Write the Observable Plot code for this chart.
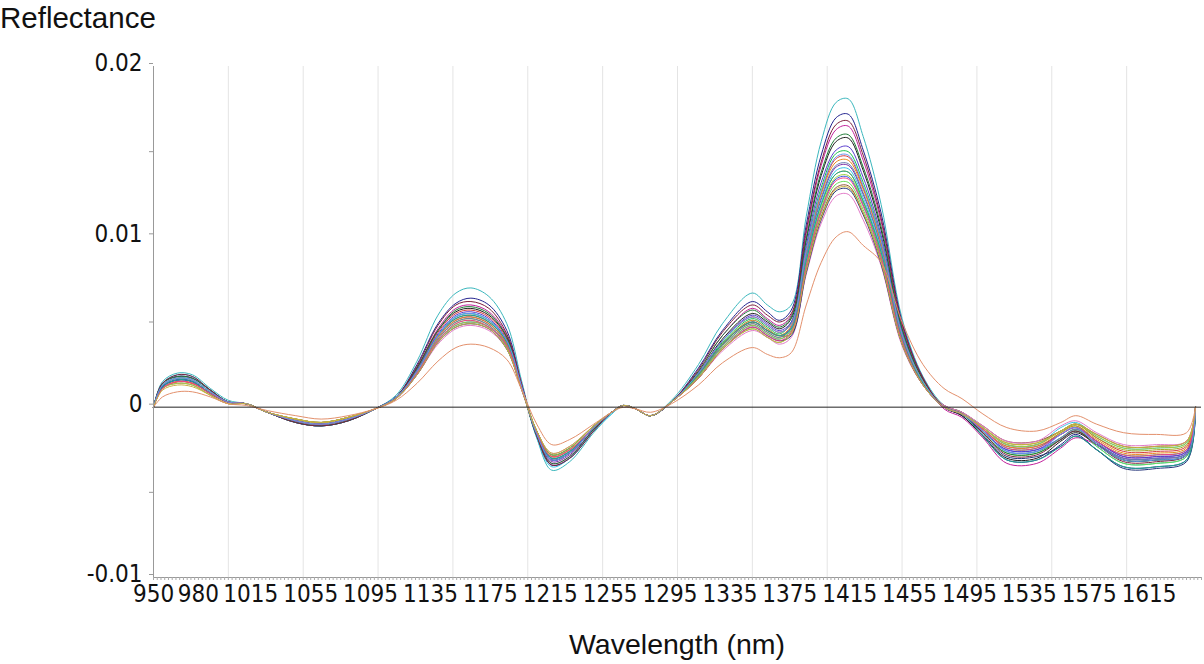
<!DOCTYPE html>
<html>
<head>
<meta charset="utf-8">
<script src="https://cdn.jsdelivr.net/npm/d3@7"></script>
<script src="https://cdn.jsdelivr.net/npm/@observablehq/plot@0.6"></script>
<style>
  html, body { margin: 0; padding: 0; background: #fff; }
  body { width: 1204px; height: 664px; position: relative; overflow: hidden; font-family: "Liberation Sans", Arial, sans-serif; }
  #title { position: absolute; left: 0px; top: 3px; font-size: 29.5px; color: #111; line-height: 1; }
  #chart { position: absolute; left: 0; top: 40px; }
  #xlabel { position: absolute; left: 153px; width: 1048px; top: 630px; text-align: center; font-size: 28.5px; color: #111; line-height: 1; }
</style>
</head>
<body>
<div id="title">Reflectance</div>
<div id="chart"></div>
<div id="xlabel">Wavelength (nm)</div>
<script>
// Wavelength sampling points (nm)
const wavelengths = [950,956,966,976,988,1000,1012,1026,1045,1062,1080,1098,1112,1126,1140,1152,1162,1174,1186,1196,1206,1216,1228,1244,1256,1264,1272,1282,1296,1314,1330,1350,1360,1368,1376,1386,1396,1406,1414,1424,1436,1450,1464,1478,1490,1504,1520,1540,1556,1566,1580,1598,1620,1640,1646];

// Representative spectra (reflectance)
const s01 = [0,.0015,.0020,.0019,.0011,.0004,.0002,-.0003,-.0009,-.0011,-.0008,-.0001,.0007,.0027,.0054,.0067,.0070,.0065,.0049,.0015,-.0018,-.0037,-.0032,-.0015,-.0004,.0001,-.0001,-.0005,.0004,.0025,.0049,.0067,.0060,.0056,.0060,.0112,.0156,.0179,.0181,.0159,.0119,.0052,.0018,.0001,-.0004,-.0014,-.0026,-.0026,-.0019,-.0014,-.0023,-.0033,-.0033,-.0029,0];
const s02 = [0,.0014,.0018,.0017,.0010,.0003,.0002,-.0003,-.0009,-.0011,-.0008,-.0001,.0006,.0025,.0049,.0061,.0064,.0060,.0045,.0013,-.0017,-.0034,-.0030,-.0014,-.0003,.0001,-.0001,-.0005,.0003,.0023,.0045,.0062,.0056,.0051,.0057,.0107,.0148,.0170,.0172,.0151,.0114,.0050,.0017,0,-.0005,-.0017,-.0031,-.0031,-.0022,-.0016,-.0025,-.0035,-.0035,-.0031,0];
const s03 = [0,.0013,.0017,.0016,.0009,.0003,.0002,-.0003,-.0008,-.0010,-.0007,-.0001,.0006,.0023,.0046,.0058,.0060,.0056,.0042,.0013,-.0017,-.0033,-.0029,-.0013,-.0003,.0001,-.0001,-.0005,.0003,.0021,.0042,.0058,.0052,.0048,.0054,.0102,.0142,.0163,.0165,.0145,.0109,.0048,.0017,-.0001,-.0006,-.0018,-.0033,-.0033,-.0024,-.0018,-.0022,-.0030,-.0030,-.0027,0];
const s04 = [0,.0012,.0016,.0015,.0008,.0003,.0002,-.0003,-.0008,-.0010,-.0007,-.0001,.0006,.0023,.0045,.0056,.0058,.0054,.0041,.0012,-.0016,-.0031,-.0027,-.0012,-.0003,.0001,-.0001,-.0005,.0003,.0020,.0040,.0055,.0050,.0046,.0052,.0098,.0136,.0156,.0158,.0139,.0104,.0046,.0016,0,-.0005,-.0017,-.0030,-.0030,-.0020,-.0015,-.0022,-.0031,-.0031,-.0028,0];
const s05 = [0,.0013,.0017,.0016,.0009,.0003,.0002,-.0003,-.0007,-.0009,-.0006,-.0001,.0006,.0021,.0042,.0053,.0055,.0051,.0039,.0012,-.0015,-.0030,-.0026,-.0012,-.0003,.0001,-.0001,-.0005,.0003,.0019,.0038,.0052,.0047,.0043,.0050,.0093,.0129,.0149,.0150,.0132,.0099,.0044,.0015,0,-.0004,-.0013,-.0024,-.0024,-.0015,-.0011,-.0020,-.0028,-.0028,-.0025,0];
const s06 = [0,.0011,.0015,.0014,.0008,.0003,.0002,-.0003,-.0008,-.0010,-.0007,-.0001,.0006,.0022,.0044,.0055,.0057,.0053,.0040,.0012,-.0015,-.0029,-.0025,-.0012,-.0003,.0001,-.0001,-.0005,.0003,.0020,.0039,.0053,.0048,.0044,.0049,.0091,.0126,.0146,.0147,.0129,.0097,.0043,.0015,.0001,-.0003,-.0012,-.0022,-.0022,-.0014,-.0010,-.0018,-.0026,-.0026,-.0023,0];
const s07 = [0,.0014,.0018,.0017,.0010,.0003,.0002,-.0003,-.0009,-.0011,-.0008,-.0001,.0005,.0021,.0041,.0051,.0053,.0049,.0037,.0011,-.0016,-.0032,-.0028,-.0013,-.0003,.0001,-.0001,-.0005,.0003,.0019,.0037,.0050,.0045,.0042,.0047,.0088,.0122,.0141,.0142,.0125,.0094,.0041,.0014,0,-.0004,-.0013,-.0023,-.0023,-.0016,-.0012,-.0020,-.0029,-.0029,-.0026,0];
const s08 = [0,.0011,.0014,.0013,.0007,.0002,.0002,-.0003,-.0007,-.0009,-.0006,-.0001,.0005,.0020,.0040,.0050,.0052,.0048,.0036,.0011,-.0014,-.0028,-.0024,-.0011,-.0003,.0001,-.0001,-.0005,.0003,.0018,.0036,.0049,.0044,.0041,.0046,.0086,.0119,.0137,.0138,.0121,.0091,.0040,.0014,.0001,-.0003,-.0012,-.0021,-.0021,-.0014,-.0010,-.0018,-.0025,-.0025,-.0022,0];
const s09 = [0,.0012,.0016,.0015,.0008,.0003,.0002,-.0003,-.0008,-.0010,-.0007,-.0001,.0005,.0020,.0039,.0048,.0050,.0047,.0035,.0011,-.0015,-.0030,-.0026,-.0012,-.0003,.0001,-.0001,-.0005,.0003,.0018,.0035,.0048,.0043,.0040,.0045,.0084,.0116,.0134,.0135,.0119,.0089,.0039,.0014,0,-.0004,-.0014,-.0025,-.0025,-.0018,-.0013,-.0021,-.0030,-.0030,-.0027,0];
const s10 = [0,.0014,.0019,.0018,.0010,.0003,.0002,-.0003,-.0009,-.0011,-.0008,-.0001,.0006,.0021,.0042,.0053,.0055,.0051,.0039,.0012,-.0018,-.0035,-.0030,-.0014,-.0004,.0001,-.0001,-.0005,.0003,.0019,.0037,.0051,.0046,.0042,.0046,.0087,.0120,.0139,.0140,.0123,.0092,.0041,.0014,.0001,-.0003,-.0012,-.0022,-.0022,-.0012,-.0009,-.0017,-.0024,-.0024,-.0021,0];
const s11 = [0,.0011,.0015,.0014,.0008,.0003,.0002,-.0003,-.0007,-.0009,-.0006,-.0001,.0005,.0021,.0042,.0052,.0054,.0050,.0038,.0011,-.0016,-.0031,-.0027,-.0012,-.0003,.0001,-.0001,-.0005,.0003,.0019,.0037,.0050,.0045,.0042,.0043,.0081,.0112,.0129,.0130,.0114,.0086,.0038,.0013,.0001,-.0003,-.0011,-.0020,-.0020,-.0014,-.0010,-.0016,-.0023,-.0023,-.0020,0];
const s12 = [0,.0013,.0017,.0016,.0009,.0003,.0002,-.0003,-.0008,-.0010,-.0007,-.0001,.0005,.0020,.0039,.0049,.0051,.0047,.0036,.0011,-.0015,-.0029,-.0025,-.0012,-.0003,.0001,-.0001,-.0005,.0003,.0017,.0034,.0046,.0041,.0038,.0044,.0082,.0114,.0131,.0132,.0116,.0087,.0038,.0013,0,-.0004,-.0015,-.0027,-.0027,-.0018,-.0013,-.0023,-.0033,-.0033,-.0029,0];
const s13 = [0,.0011,.0014,.0013,.0007,.0002,.0002,-.0003,-.0007,-.0009,-.0006,-.0001,.0005,.0019,.0037,.0046,.0048,.0045,.0034,.0010,-.0014,-.0027,-.0023,-.0011,-.0003,.0001,-.0001,-.0005,.0003,.0017,.0033,.0045,.0041,.0037,.0041,.0078,.0108,.0124,.0125,.0110,.0083,.0036,.0013,.0001,-.0003,-.0011,-.0020,-.0020,-.0011,-.0008,-.0015,-.0022,-.0022,-.0020,0];
const s14 = [0,.0012,.0016,.0015,.0008,.0003,.0002,-.0003,-.0008,-.0010,-.0007,-.0001,.0005,.0019,.0038,.0047,.0049,.0046,.0034,.0010,-.0014,-.0028,-.0024,-.0011,-.0003,.0001,-.0001,-.0005,.0003,.0017,.0034,.0047,.0042,.0039,.0042,.0079,.0110,.0127,.0128,.0113,.0084,.0037,.0013,0,-.0004,-.0016,-.0029,-.0029,-.0023,-.0017,-.0025,-.0036,-.0036,-.0032,0];
const s15 = [0,.0006,.0009,.0009,.0006,.0002,.0001,-.0002,-.0005,-.0007,-.0005,-.0001,.0004,.0014,.0027,.0035,.0037,.0035,.0028,.0010,-.0010,-.0022,-.0019,-.0010,-.0003,0,-.0001,-.0003,.0002,.0013,.0026,.0035,.0031,.0029,.0032,.0060,.0085,.0100,.0103,.0095,.0085,.0050,.0025,.0011,.0005,-.0004,-.0012,-.0014,-.0009,-.0005,-.0010,-.0015,-.0016,-.0015,0];
const s16 = [0,.0012,.0016,.0015,.0008,.0003,.0002,-.0003,-.0008,-.0010,-.0007,-.0001,.0006,.0022,.0043,.0054,.0056,.0052,.0039,.0012,-.0016,-.0031,-.0027,-.0012,-.0003,.0001,-.0001,-.0005,.0003,.0020,.0039,.0054,.0049,.0045,.0050,.0095,.0132,.0151,.0153,.0135,.0101,.0044,.0015,0,-.0004,-.0014,-.0025,-.0025,-.0016,-.0012,-.0020,-.0029,-.0029,-.0026,0];
const s17 = [0,.0014,.0018,.0017,.0010,.0003,.0002,-.0003,-.0009,-.0011,-.0008,-.0001,.0006,.0023,.0045,.0057,.0059,.0055,.0041,.0012,-.0017,-.0033,-.0029,-.0013,-.0003,.0001,-.0001,-.0005,.0003,.0021,.0042,.0057,.0051,.0047,.0053,.0099,.0138,.0158,.0160,.0141,.0106,.0046,.0016,0,-.0004,-.0015,-.0027,-.0027,-.0019,-.0014,-.0022,-.0031,-.0031,-.0028,0];
const s18 = [0,.0011,.0015,.0014,.0008,.0003,.0002,-.0003,-.0007,-.0009,-.0006,-.0001,.0005,.0021,.0041,.0051,.0053,.0049,.0037,.0011,-.0015,-.0029,-.0025,-.0012,-.0003,.0001,-.0001,-.0005,.0003,.0019,.0037,.0051,.0046,.0042,.0048,.0090,.0125,.0144,.0145,.0128,.0096,.0042,.0015,0,-.0004,-.0013,-.0023,-.0023,-.0015,-.0011,-.0019,-.0027,-.0027,-.0024,0];
const s19 = [0,.0013,.0017,.0016,.0009,.0003,.0002,-.0003,-.0008,-.0010,-.0007,-.0001,.0005,.0020,.0040,.0050,.0052,.0048,.0036,.0011,-.0015,-.0030,-.0026,-.0012,-.0003,.0001,-.0001,-.0005,.0003,.0018,.0036,.0049,.0044,.0041,.0047,.0089,.0123,.0142,.0143,.0126,.0094,.0041,.0014,0,-.0004,-.0014,-.0026,-.0026,-.0018,-.0013,-.0021,-.0030,-.0030,-.0027,0];
const s20 = [0,.0011,.0014,.0013,.0007,.0002,.0002,-.0003,-.0007,-.0009,-.0006,-.0001,.0005,.0020,.0039,.0048,.0050,.0047,.0035,.0011,-.0014,-.0028,-.0024,-.0011,-.0003,.0001,-.0001,-.0005,.0003,.0018,.0035,.0048,.0043,.0040,.0045,.0084,.0117,.0135,.0136,.0120,.0090,.0039,.0014,0,-.0004,-.0012,-.0022,-.0022,-.0014,-.0010,-.0017,-.0024,-.0024,-.0021,0];
const s21 = [0,.0014,.0019,.0018,.0010,.0003,.0002,-.0003,-.0009,-.0011,-.0008,-.0001,.0006,.0024,.0048,.0060,.0062,.0058,.0043,.0013,-.0017,-.0034,-.0030,-.0014,-.0003,.0001,-.0001,-.0005,.0003,.0022,.0044,.0060,.0054,.0050,.0055,.0104,.0144,.0166,.0168,.0148,.0111,.0049,.0017,0,-.0004,-.0015,-.0028,-.0028,-.0019,-.0014,-.0022,-.0032,-.0032,-.0028,0];
const s22 = [0,.0012,.0016,.0015,.0008,.0003,.0002,-.0003,-.0008,-.0010,-.0007,-.0001,.0005,.0021,.0042,.0052,.0054,.0050,.0038,.0011,-.0015,-.0030,-.0026,-.0012,-.0003,.0001,-.0001,-.0005,.0003,.0019,.0037,.0050,.0045,.0042,.0046,.0086,.0119,.0137,.0138,.0121,.0091,.0040,.0014,0,-.0004,-.0017,-.0031,-.0031,-.0023,-.0017,-.0025,-.0035,-.0035,-.0031,0];
const s23 = [0,.0011,.0015,.0014,.0008,.0003,.0002,-.0003,-.0008,-.0010,-.0007,-.0001,.0005,.0020,.0039,.0049,.0051,.0047,.0036,.0011,-.0015,-.0029,-.0025,-.0012,-.0003,.0001,-.0001,-.0005,.0003,.0017,.0034,.0047,.0042,.0039,.0044,.0083,.0115,.0133,.0134,.0118,.0088,.0039,.0013,0,-.0004,-.0013,-.0024,-.0024,-.0016,-.0012,-.0020,-.0028,-.0028,-.0025,0];
const s24 = [0,.0013,.0017,.0016,.0009,.0003,.0002,-.0003,-.0008,-.0010,-.0007,-.0001,.0006,.0021,.0042,.0053,.0055,.0051,.0039,.0012,-.0016,-.0031,-.0027,-.0012,-.0003,.0001,-.0001,-.0005,.0003,.0020,.0039,.0053,.0048,.0044,.0049,.0092,.0127,.0147,.0148,.0130,.0098,.0043,.0015,0,-.0004,-.0014,-.0026,-.0026,-.0016,-.0012,-.0022,-.0031,-.0031,-.0028,0];
const s25 = [0,.0010,.0013,.0012,.0007,.0002,.0002,-.0003,-.0007,-.0009,-.0006,-.0001,.0005,.0019,.0038,.0047,.0049,.0046,.0034,.0010,-.0014,-.0027,-.0023,-.0011,-.0003,.0001,-.0001,-.0005,.0003,.0017,.0034,.0046,.0041,.0038,.0043,.0080,.0111,.0128,.0129,.0114,.0085,.0037,.0013,0,-.0004,-.0012,-.0021,-.0021,-.0014,-.0010,-.0016,-.0023,-.0023,-.0020,0];

const seriesNames = ["s01","s02","s03","s04","s05","s06","s07","s08","s09","s10","s11","s12","s13","s14","s15","s16","s17","s18","s19","s20","s21","s22","s23","s24","s25"];
const seriesValues = [s01,s02,s03,s04,s05,s06,s07,s08,s09,s10,s11,s12,s13,s14,s15,s16,s17,s18,s19,s20,s21,s22,s23,s24,s25];
const seriesColors = ["#3ab7bd","#23238f","#c2209c","#1e1e1e","#19c24a","#d63a3a","#7a2fa8","#a4a628","#3556e0","#35c3e6","#8c5530","#66dd55","#e27ac8","#24347a","#e3906c","#5a3ccf","#1d7a35","#e88a1c","#6a7fb0","#9bd13a","#7d1f3c","#1fa88f","#f0408a","#6495ed","#c8b040"];

// Axis tick values
const xTickLabels = [950,980,1015,1055,1095,1135,1175,1215,1255,1295,1335,1375,1415,1455,1495,1535,1575,1615];
const xGrid = [1000,1050,1100,1150,1200,1250,1300,1350,1400,1450,1500,1550,1600];
const yTickLabels = [-0.01,0,0.01,0.02];
const yMinorTicks = [-0.005,0.005,0.015];

const rows = [];
seriesNames.forEach((name, k) => {
  const vals = seriesValues[k];
  wavelengths.forEach((w, i) => {
    if (i < vals.length) rows.push({series: name, wavelength: w, reflectance: vals[i]});
  });
});
// draw the pale outlier (s15) on top like in the original
const order = seriesNames.filter(n => n !== "s15").concat(["s15"]);
rows.sort((a, b) => order.indexOf(a.series) - order.indexOf(b.series));

const xMinor = d3.range(950, 1650.01, 2.5);
const narrow = "'Liberation Sans Narrow', 'DejaVu Sans Condensed', Arial, sans-serif";

const chart = Plot.plot({
  width: 1204,
  height: 580,
  marginTop: 26,
  marginBottom: 43,
  marginLeft: 153,
  marginRight: 3,
  style: {background: "#fff", fontFamily: "'Liberation Sans', Arial, sans-serif", color: "#111"},
  x: {domain: [950, 1650], label: null},
  y: {domain: [-0.01, 0.02], label: null},
  color: {domain: seriesNames, range: seriesColors},
  marks: [
    Plot.ruleX(xGrid, {stroke: "#e4e4e4", strokeWidth: 1}),
    Plot.lineY(rows, {x: "wavelength", y: "reflectance", z: "series", stroke: "series", strokeWidth: 1, curve: "catmull-rom"}),
    Plot.ruleY([0], {stroke: "#222", strokeWidth: 1}),
    Plot.ruleX([950], {stroke: "#999", strokeWidth: 1}),
    Plot.ruleY([-0.01], {stroke: "#999", strokeWidth: 1}),
    Plot.axisY(yTickLabels, {tickSize: 4, tickPadding: 7, dy: -3, stroke: "#999", fontSize: 24, fill: "#111", fontFamily: narrow, tickFormat: d => String(d)}),
    Plot.axisY(yMinorTicks, {tickSize: 4, stroke: "#999", tickFormat: () => ""}),
    Plot.axisX(xMinor, {tickSize: 3, stroke: "#aaa", tickFormat: () => ""}),
    Plot.axisX(xTickLabels, {tickSize: 0, tickPadding: 7, fontSize: 24, fill: "#111", fontFamily: narrow, tickFormat: d => String(d)})
  ]
});
document.getElementById("chart").appendChild(chart);
</script>
</body>
</html>
